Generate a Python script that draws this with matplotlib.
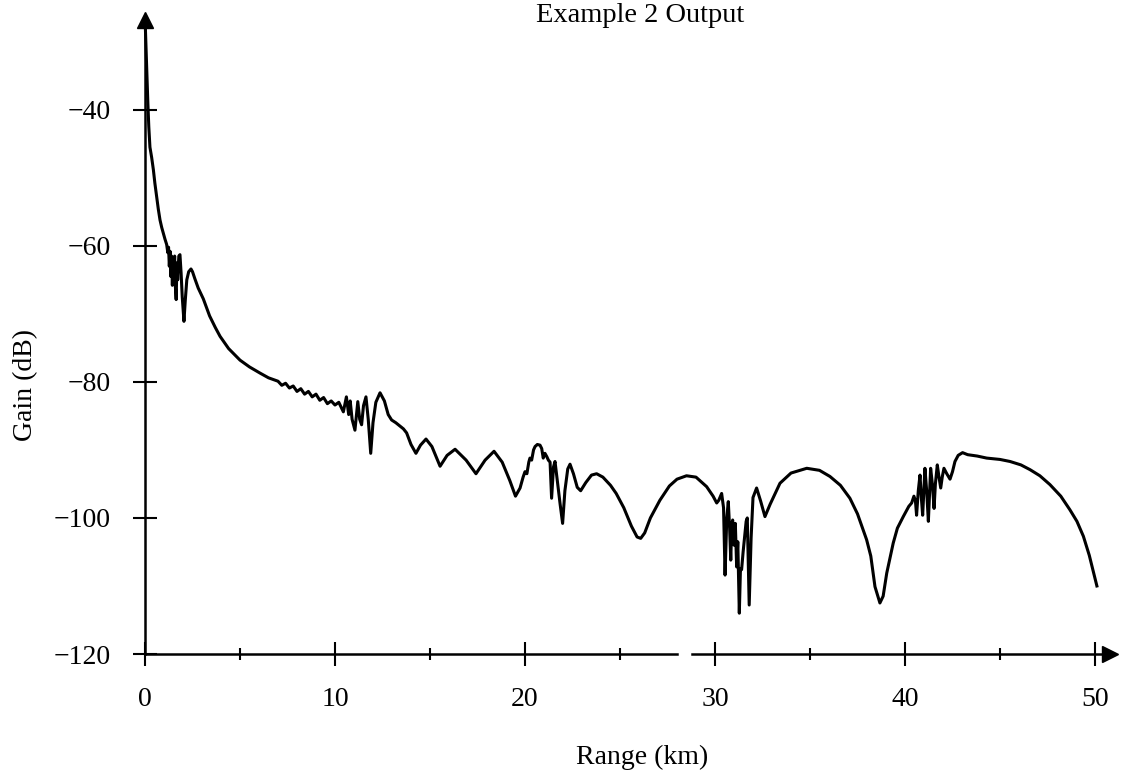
import matplotlib.pyplot as plt

# gain curve
range_km = [
    0.02, 0.08, 0.15, 0.20, 0.26, 0.35, 0.44, 0.52, 0.61, 0.70, 0.79, 0.88, 0.96, 1.05, 1.14,
    1.20, 1.24, 1.28, 1.32, 1.36, 1.40, 1.44, 1.48, 1.52, 1.56, 1.60, 1.64, 1.68, 1.72, 1.78, 1.84,
    1.90, 1.96, 2.05, 2.12, 2.20, 2.30, 2.42, 2.50, 2.62, 2.80, 3.07, 3.40, 3.70, 3.95, 4.40, 5.00,
    5.50, 6.05, 6.50, 7.00, 7.20, 7.40, 7.60, 7.80, 8.00, 8.20, 8.40, 8.60, 8.80, 9.00, 9.20, 9.40,
    9.60, 9.80, 10.00, 10.20, 10.44, 10.60, 10.72, 10.80, 10.90, 11.05, 11.20, 11.30, 11.40, 11.50,
    11.63, 11.75, 11.88, 12.00, 12.15, 12.37, 12.60, 12.80, 12.98, 13.20, 13.42, 13.60, 13.77, 14.00,
    14.26, 14.50, 14.79, 15.10, 15.53, 15.90, 16.32, 16.90, 17.42, 17.90, 18.37, 18.80, 19.20, 19.50,
    19.74, 19.90, 20.00, 20.10, 20.20, 20.26, 20.35, 20.45, 20.53, 20.65, 20.79, 20.88, 20.96, 21.05,
    21.15, 21.23, 21.32, 21.40, 21.50, 21.58, 21.70, 21.85, 21.98, 22.10, 22.25, 22.37, 22.55, 22.75,
    22.93, 23.20, 23.50, 23.77, 24.10, 24.50, 24.80, 25.20, 25.60, 25.90, 26.09, 26.30, 26.60, 27.10,
    27.60, 28.00, 28.50, 29.00, 29.56, 29.90, 30.09, 30.20, 30.35, 30.45, 30.53, 30.62, 30.70, 30.77,
    30.83, 30.88, 30.93, 31.00, 31.07, 31.14, 31.20, 31.28, 31.34, 31.40, 31.48, 31.55, 31.64, 31.70,
    31.80, 31.90, 32.00, 32.19, 32.40, 32.63, 32.90, 33.42, 34.00, 34.83, 35.50, 36.05, 36.60, 37.10,
    37.50, 37.98, 38.20, 38.42, 38.68, 38.85, 39.04, 39.38, 39.60, 39.91, 40.20, 40.35, 40.47, 40.55,
    40.61, 40.70, 40.79, 40.86, 40.93, 41.00, 41.05, 41.14, 41.23, 41.29, 41.35, 41.44, 41.53, 41.60,
    41.70, 41.78, 41.88, 41.96, 42.05, 42.20, 42.37, 42.50, 42.63, 42.80, 43.03, 43.30, 43.80, 44.30,
    45.00, 45.53, 46.10, 46.58, 47.10, 47.63, 48.20, 48.68, 49.05, 49.39, 49.70, 50.10,
]
gain_db = [
    -28.0, -33.0, -39.0, -42.5, -45.5, -47.0, -48.8, -50.8, -52.7, -54.6, -56.2, -57.3, -58.1, -59.0, -59.8,
    -61.0, -60.2, -63.0, -60.8, -64.5, -61.5, -65.8, -62.0, -64.0, -61.5, -66.0, -67.9, -62.5, -65.0, -61.5, -61.3,
    -64.0, -67.5, -71.1, -68.0, -65.0, -63.8, -63.4, -63.8, -64.8, -66.2, -67.8, -70.3, -72.0, -73.3, -75.1, -76.8,
    -77.8, -78.7, -79.4, -79.9, -80.5, -80.2, -80.9, -80.6, -81.4, -81.0, -81.8, -81.4, -82.2, -81.8, -82.7, -82.3,
    -83.2, -82.8, -83.4, -83.0, -84.4, -82.2, -84.8, -82.8, -85.5, -87.1, -82.9, -85.5, -86.3, -83.5,
    -82.2, -85.5, -90.5, -86.0, -83.0, -81.6, -82.8, -84.8, -85.6, -86.0, -86.5, -86.9, -87.5, -89.2,
    -90.5, -89.3, -88.4, -89.5, -92.4, -90.8, -89.9, -91.5, -93.5, -91.5, -90.2, -91.8, -94.5, -96.8,
    -95.6, -94.0, -93.2, -93.5, -91.8, -91.2, -91.5, -90.0, -89.5, -89.2, -89.3, -89.8, -91.2, -90.5,
    -91.0, -91.5, -91.8, -97.1, -92.5, -91.7, -94.5, -98.0, -100.8, -96.0, -92.8, -92.1, -93.5, -95.5,
    -96.0, -94.8, -93.7, -93.5, -94.0, -95.2, -96.4, -98.5, -101.2, -102.8, -103.0, -102.2, -100.0, -97.4,
    -95.3, -94.3, -93.8, -94.0, -95.4, -96.8, -97.8, -97.4, -96.4, -98.5, -108.4, -100.0, -97.6, -101.5,
    -106.2, -101.0, -100.3, -104.0, -100.8, -107.2, -103.5, -114.0, -107.5, -107.6, -105.0, -103.0, -100.5, -100.0,
    -112.8, -103.0, -97.0, -95.6, -97.5, -99.8, -98.0, -94.9, -93.4, -92.7, -93.0, -93.9, -95.2, -97.1,
    -99.4, -103.2, -105.6, -110.1, -112.5, -111.5, -108.1, -103.7, -101.5, -99.8, -98.3, -97.8, -96.8, -97.5,
    -99.6, -96.0, -93.7, -97.0, -99.6, -95.5, -92.7, -96.0, -100.5, -96.5, -92.7, -95.0, -98.6, -95.0,
    -92.2, -93.8, -95.6, -94.0, -92.7, -93.5, -94.3, -93.2, -91.7, -90.8, -90.4, -90.7, -90.9, -91.2,
    -91.4, -91.7, -92.2, -92.9, -93.8, -95.1, -96.8, -98.8, -100.5, -102.7, -105.5, -110.0,
]

x_major = [0, 10, 20, 30, 40, 50]
x_minor = [5, 15, 25, 35, 45]
y_major = [-120, -100, -80, -60, -40]

plt.rcParams["font.family"] = ["Liberation Serif", "DejaVu Serif"]
plt.rcParams["font.size"] = 20

fig = plt.figure(figsize=(11.21, 7.74), dpi=100)
ax = fig.add_axes([145 / 1121, 120 / 774, 965 / 1121, 634 / 774])

x_end = 50.79
ax.set_xlim(0, x_end)
ax.set_ylim(-120, -26.8)

ax.plot(range_km, gain_db, color="black", linewidth=2.2, clip_on=False)

# axes drawn by hand: the x axis has a small break near 28 km
for side in ["top", "right", "bottom"]:
    ax.spines[side].set_visible(False)
ax.spines["left"].set_linewidth(1.8)
ax.plot([0, 28.0], [-120, -120], color="black", linewidth=1.8, clip_on=False)
ax.plot([28.8, x_end], [-120, -120], color="black", linewidth=1.8, clip_on=False)
ax.plot([1], [0], marker=">", markersize=11, color="black", transform=ax.transAxes, clip_on=False)
ax.plot([0], [1], marker="^", markersize=11, color="black", transform=ax.transAxes, clip_on=False)

ax.set_xticks(x_major)
ax.set_xticks(x_minor, minor=True)
ax.set_yticks(y_major)
ax.tick_params(axis="x", which="major", direction="inout", length=17, width=1.5, pad=15)
ax.tick_params(axis="x", which="minor", direction="inout", length=9, width=1.5)
ax.tick_params(axis="y", which="major", direction="inout", length=17, width=1.5, pad=16)

fig.text(640 / 1121, 1 - 16 / 774, "Example 2 Output", ha="center", va="center", fontsize=20.5)
fig.text(642 / 1121, 1 - 757 / 774, "Range (km)", ha="center", va="center", fontsize=20)
fig.text(26 / 1121, 1 - 385 / 774, "Gain (dB)", ha="center", va="center", rotation=90, fontsize=20)

fig.savefig("out.png", dpi=100)
